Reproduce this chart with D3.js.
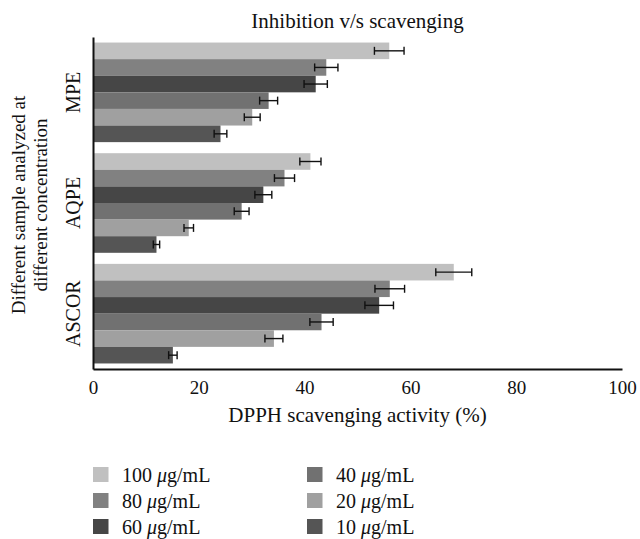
<!DOCTYPE html>
<html>
<head>
<meta charset="utf-8">
<script src="https://cdn.jsdelivr.net/npm/d3@7"></script>
<style>
  body { margin: 0; background: #fff; }
  svg { display: block; }
  text { font-family: "Liberation Serif", "DejaVu Serif", serif; fill: #111; }
</style>
</head>
<body>
<svg id="chart" width="640" height="539"></svg>
<script>
// ---- data ----
const samples = ["MPE", "AQPE", "ASCOR"];
const concentrations = ["100", "80", "60", "40", "20", "10"];
const MPE   = [56.0, 44.1, 42.1, 33.2, 30.1, 24.1];
const AQPE  = [41.1, 36.2, 32.2, 28.1, 18.1, 12.0];
const ASCOR = [68.2, 56.1, 54.1, 43.2, 34.2, 15.1];
const MPE_err   = [2.8, 2.2, 2.2, 1.7, 1.5, 1.2];
const AQPE_err  = [2.0, 1.9, 1.6, 1.4, 0.9, 0.6];
const ASCOR_err = [3.4, 2.8, 2.7, 2.2, 1.7, 0.8];
const xTicks = [0, 20, 40, 60, 80, 100];
const colors = ["#c0c0c0", "#818181", "#464646", "#717171", "#a0a0a0", "#555555"];

const values = { MPE, AQPE, ASCOR };
const errors = { MPE: MPE_err, AQPE: AQPE_err, ASCOR: ASCOR_err };

const svg = d3.select("#chart");
const mLeft = 93, mRight = 622, mTop = 37, mBottom = 369;

const x = d3.scaleLinear().domain([0, 100]).range([mLeft, mRight]);
const y0 = d3.scaleBand().domain(samples).range([mTop, mBottom]).paddingInner(0.1).paddingOuter(0.05);
const y1 = d3.scaleBand().domain(concentrations).range([0, y0.bandwidth()]);
const color = d3.scaleOrdinal().domain(concentrations).range(colors);

// bars
const groups = svg.append("g").selectAll("g").data(samples).join("g")
  .attr("transform", s => `translate(0,${y0(s)})`);

const rows = s => concentrations.map((c, i) => ({ s, c, v: values[s][i], e: errors[s][i] }));

groups.selectAll("rect").data(rows).join("rect")
  .attr("x", x(0))
  .attr("y", d => y1(d.c))
  .attr("width", d => x(d.v) - x(0))
  .attr("height", y1.bandwidth())
  .attr("fill", d => color(d.c));

// error bars
const eb = groups.selectAll("g.err").data(rows).join("g").attr("class", "err")
  .attr("stroke", "#111").attr("stroke-width", 1.4);
const cy = d => y1(d.c) + y1.bandwidth() / 2;
eb.append("line")
  .attr("x1", d => x(d.v - d.e)).attr("x2", d => x(d.v + d.e))
  .attr("y1", cy).attr("y2", cy);
eb.append("line")
  .attr("x1", d => x(d.v - d.e)).attr("x2", d => x(d.v - d.e))
  .attr("y1", d => cy(d) - 4).attr("y2", d => cy(d) + 4);
eb.append("line")
  .attr("x1", d => x(d.v + d.e)).attr("x2", d => x(d.v + d.e))
  .attr("y1", d => cy(d) - 4).attr("y2", d => cy(d) + 4);

// x axis
const xAxis = svg.append("g").attr("transform", `translate(0,${mBottom})`)
  .call(d3.axisBottom(x).tickValues(xTicks).tickSize(0).tickPadding(10).tickFormat(d3.format("d")));
xAxis.select(".domain").attr("stroke", "#111").attr("stroke-width", 2);
xAxis.selectAll("text").attr("dy", null).attr("y", 25)
  .style("font-size", "19px").style("font-family", "Liberation Serif, serif").attr("fill", "#111");

// y axis
const yAxis = svg.append("g").attr("transform", `translate(${mLeft},0)`)
  .call(d3.axisLeft(y0).tickSize(0).tickPadding(0).tickFormat(() => ""));
yAxis.select(".domain").attr("stroke", "#111").attr("stroke-width", 2);

// category labels (rotated)
svg.append("g").selectAll("text").data(samples).join("text")
  .attr("transform", s => `translate(80,${y0(s) + y0.bandwidth() / 2}) rotate(-90)`)
  .attr("text-anchor", "middle")
  .style("font-size", "20px")
  .text(s => s);

// title
svg.append("text").attr("x", (mLeft + mRight) / 2).attr("y", 28)
  .attr("text-anchor", "middle").style("font-size", "21px")
  .text("Inhibition v/s scavenging");

// x label
svg.append("text").attr("x", (mLeft + mRight) / 2).attr("y", 421.5)
  .attr("text-anchor", "middle").style("font-size", "21px")
  .text("DPPH scavenging activity (%)");

// y label
const yl = svg.append("text")
  .attr("transform", `translate(0,${(mTop + mBottom) / 2 + 2}) rotate(-90)`)
  .attr("text-anchor", "middle").style("font-size", "19px");
yl.append("tspan").attr("x", 0).attr("y", 25).text("Different sample analyzed at");
yl.append("tspan").attr("x", 0).attr("y", 47).text("different concentration");

// legend
const legendItems = concentrations.map((c, i) => ({ c, col: Math.floor(i / 3), row: i % 3 }));
const lg = svg.append("g").selectAll("g").data(legendItems).join("g")
  .attr("transform", d => `translate(${93 + d.col * 214},${467 + d.row * 26})`);
lg.append("rect").attr("width", 15.5).attr("height", 15).attr("fill", d => color(d.c));
lg.append("text").attr("x", 29).attr("y", 15).style("font-size", "20px")
  .each(function(d) {
    const t = d3.select(this);
    t.append("tspan").text(d.c + " ");
    t.append("tspan").style("font-style", "italic").text("\u03bc");
    t.append("tspan").text("g/mL");
  });
</script>
</body>
</html>
